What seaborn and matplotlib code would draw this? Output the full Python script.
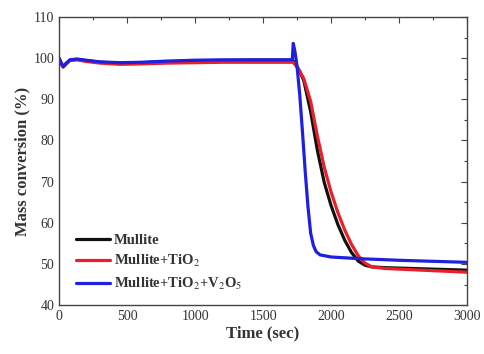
import numpy as np
import pandas as pd
import seaborn as sns
import matplotlib
matplotlib.use("Agg")
import matplotlib.pyplot as plt
from matplotlib.ticker import MultipleLocator

# Thermogravimetric mass conversion curves
t_mullite = [0, 15, 30, 50, 80, 130, 200, 300, 450, 600, 800, 1000, 1200, 1400,
             1600, 1700, 1720, 1740, 1770, 1800, 1850, 1900, 1950, 2000, 2050,
             2100, 2150, 2200, 2250, 2300, 2400, 2600, 2800, 3000]
m_mullite = [100.0, 98.8, 97.9, 98.6, 99.5, 99.7, 99.4, 99.0, 98.8, 98.9, 99.1,
             99.3, 99.4, 99.5, 99.5, 99.5, 99.4, 98.5, 96.8, 94.5, 87.0, 77.5,
             69.8, 64.2, 59.6, 55.8, 52.8, 50.7, 49.7, 49.3, 49.1, 48.9, 48.7, 48.5]

t_tio2 = [0, 15, 30, 50, 80, 130, 200, 300, 450, 600, 800, 1000, 1200, 1400,
          1600, 1700, 1720, 1740, 1770, 1800, 1850, 1900, 1950, 2000, 2050,
          2100, 2150, 2200, 2250, 2300, 2400, 2600, 2800, 3000]
m_tio2 = [100.0, 98.7, 97.8, 98.5, 99.4, 99.6, 99.2, 98.8, 98.5, 98.6, 98.8,
          98.9, 99.0, 99.0, 99.0, 99.0, 99.0, 98.3, 96.8, 95.0, 89.5, 81.0,
          73.5, 67.5, 62.5, 58.3, 54.8, 52.0, 50.2, 49.3, 48.9, 48.6, 48.3, 48.0]

t_tio2_v2o5 = [0, 15, 30, 50, 80, 130, 200, 300, 450, 600, 800, 1000, 1200,
               1400, 1600, 1700, 1715, 1722, 1735, 1750, 1770, 1790, 1810, 1830,
               1850, 1870, 1890, 1920, 2000, 2200, 2500, 2800, 3000]
m_tio2_v2o5 = [100.0, 98.9, 98.0, 98.7, 99.6, 99.8, 99.5, 99.1, 98.9, 99.0,
               99.3, 99.5, 99.6, 99.6, 99.6, 99.6, 99.7, 103.6, 101.5, 98.0,
               91.0, 82.0, 72.5, 64.0, 57.5, 54.5, 53.0, 52.2, 51.7, 51.3,
               50.9, 50.6, 50.4]

labels = ["Mullite", r"Mullite+TiO$_2$", r"Mullite+TiO$_2$+V$_2$O$_5$"]
colors = ["#111111", "#e8202a", "#1f1fe0"]

frames = []
for lab, t, m in zip(labels, [t_mullite, t_tio2, t_tio2_v2o5],
                     [m_mullite, m_tio2, m_tio2_v2o5]):
    frames.append(pd.DataFrame({"time": t, "mass": m, "sample": lab}))
df = pd.concat(frames, ignore_index=True)

sns.set_theme(style="white")
plt.rcParams["font.family"] = ["Liberation Serif", "DejaVu Serif"]
plt.rcParams["mathtext.fontset"] = "stix"

fig = plt.figure(figsize=(4.84, 3.54), dpi=100)
ax = fig.add_axes([0.122, 0.138, 0.843, 0.814])

sns.lineplot(data=df, x="time", y="mass", hue="sample", palette=colors,
             hue_order=labels, linewidth=2.3, ax=ax, sort=False,
             estimator=None)

ax.set_xlim(0, 3000)
ax.set_ylim(40, 110)
ax.xaxis.set_major_locator(MultipleLocator(500))
ax.xaxis.set_minor_locator(MultipleLocator(250))
ax.yaxis.set_major_locator(MultipleLocator(10))
ax.yaxis.set_minor_locator(MultipleLocator(5))
ax.tick_params(which="both", direction="in", top=True, right=True,
               colors="#444444", labelcolor="#333333", labelsize=10)
ax.tick_params(which="major", length=4, width=0.8)
ax.tick_params(which="minor", length=2, width=0.8)
for s in ax.spines.values():
    s.set_color("#444444")
    s.set_linewidth(1.0)

ax.set_xlabel("Time (sec)", fontsize=12, fontweight="bold", color="#333333",
              labelpad=2)
ax.set_ylabel("Mass conversion (%)", fontsize=12, fontweight="bold",
              color="#333333", labelpad=2)

leg = ax.legend(loc="lower left", bbox_to_anchor=(0.01, 0.0), frameon=False,
                fontsize=10.5, handlelength=2.3, handletextpad=0.3,
                labelspacing=0.45)
for txt in leg.get_texts():
    txt.set_fontweight("bold")
    txt.set_color("#333333")

fig.savefig("out.png", dpi=100)
